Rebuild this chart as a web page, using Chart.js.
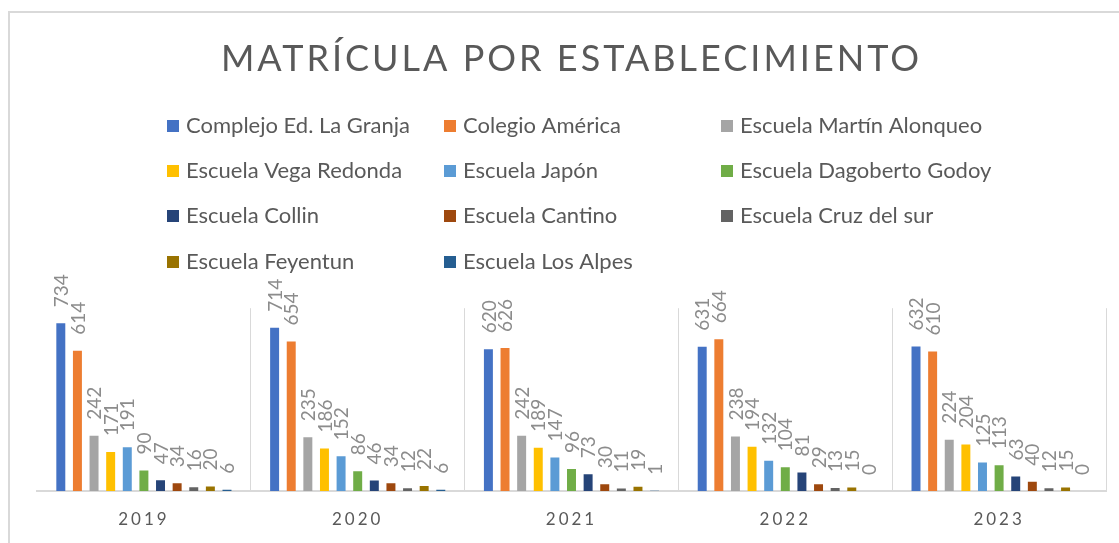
<!DOCTYPE html>
<html>
<head>
<meta charset="utf-8">
<title>Matrícula por establecimiento</title>
<script src="https://cdn.jsdelivr.net/npm/chart.js@4.4.0/dist/chart.umd.min.js"></script>
<style>
  html, body { margin: 0; padding: 0; background: #fff; }
  #wrap { width: 1119px; height: 543px; }
</style>
</head>
<body>
<div id="wrap"><canvas id="chart" width="1119" height="543"></canvas></div>
<script>
// years on the category axis
const years = ['2019', '2020', '2021', '2022', '2023'];

// one array per school, values per year
const laGranja      = [734, 714, 620, 631, 632];
const america       = [614, 654, 626, 664, 610];
const martinAlonqueo = [242, 235, 242, 238, 224];
const vegaRedonda   = [171, 186, 189, 194, 204];
const japon         = [191, 152, 147, 132, 125];
const dagoberto     = [90, 86, 96, 104, 113];
const collin        = [47, 46, 73, 81, 63];
const cantino       = [34, 34, 30, 29, 40];
const cruzDelSur    = [16, 12, 11, 13, 12];
const feyentun      = [20, 22, 19, 15, 15];
const losAlpes      = [6, 6, 1, 0, 0];

const schoolNames = [
    'Complejo Ed. La Granja', 'Colegio América', 'Escuela Martín Alonqueo',
    'Escuela Vega Redonda', 'Escuela Japón', 'Escuela Dagoberto Godoy',
    'Escuela Collin', 'Escuela Cantino', 'Escuela Cruz del sur',
    'Escuela Feyentun', 'Escuela Los Alpes'
];
const schoolValues = [laGranja, america, martinAlonqueo, vegaRedonda, japon,
    dagoberto, collin, cantino, cruzDelSur, feyentun, losAlpes];
const colors = ['#4472C4', '#ED7D31', '#A5A5A5', '#FFC000', '#5B9BD5', '#70AD47',
    '#264478', '#9E480E', '#636363', '#997300', '#255E91'];

const yMax = 800;

const datasets = schoolNames.map((name, i) => ({
    label: name,
    data: schoolValues[i],
    backgroundColor: colors[i],
    borderWidth: 0
}));

// white background, outer frame and spaced-out text for title / ticks
const framePlugin = {
    id: 'frame',
    beforeDraw(chart) {
        const ctx = chart.ctx;
        ctx.save();
        ctx.fillStyle = '#ffffff';
        ctx.fillRect(0, 0, chart.width, chart.height);
        ctx.strokeStyle = '#d9d9d9';
        ctx.lineWidth = 2;
        ctx.strokeRect(9, 12, chart.width + 20, chart.height + 20);
        ctx.restore();
        ctx.letterSpacing = '3px';
    },
    beforeDatasetsDraw(chart) {
        chart.ctx.letterSpacing = '0px';
    }
};

// value labels, rotated, above each bar
const valueLabels = {
    id: 'valueLabels',
    afterDatasetsDraw(chart) {
        const ctx = chart.ctx;
        ctx.save();
        ctx.font = '19px Lato';
        ctx.fillStyle = '#8c8c8c';
        ctx.textAlign = 'left';
        ctx.textBaseline = 'middle';
        chart.data.datasets.forEach((ds, di) => {
            const meta = chart.getDatasetMeta(di);
            meta.data.forEach((bar, i) => {
                ctx.save();
                ctx.translate(bar.x + 1, bar.y - 16);
                ctx.rotate(-Math.PI / 2);
                ctx.fillText(String(ds.data[i]), 0, 0);
                ctx.restore();
            });
        });
        ctx.restore();
    }
};

// legend in three fixed columns
const gridLegend = {
    id: 'gridLegend',
    afterDraw(chart) {
        const ctx = chart.ctx;
        const colX = [167, 444, 721];
        const rowY = [126, 171, 216, 262];
        ctx.save();
        ctx.font = '22px Lato';
        ctx.textBaseline = 'middle';
        ctx.textAlign = 'left';
        chart.data.datasets.forEach((ds, i) => {
            const x = colX[i % 3];
            const y = rowY[Math.floor(i / 3)];
            ctx.fillStyle = ds.backgroundColor;
            ctx.fillRect(x, y - 6, 12, 12);
            ctx.fillStyle = '#595959';
            ctx.fillText(ds.label, x + 19, y);
        });
        ctx.restore();
    }
};

new Chart(document.getElementById('chart'), {
    type: 'bar',
    data: { labels: years, datasets: datasets },
    options: {
        responsive: false,
        animation: false,
        layout: { padding: { left: 37, right: 13, bottom: 0, top: 0 } },
        datasets: {
            bar: { categoryPercentage: 0.855, barPercentage: 0.54 }
        },
        scales: {
            x: {
                afterFit(scale) { scale.height = 52; },
                grid: {
                    offset: true,
                    drawTicks: false,
                    color: c => c.index === 0 ? 'rgba(0,0,0,0)' : '#d9d9d9',
                    lineWidth: 1
                },
                border: { color: '#d9d9d9', width: 2 },
                ticks: {
                    color: '#595959',
                    font: { family: 'Lato', size: 17 },
                    padding: 18
                }
            },
            y: {
                display: false,
                min: 0,
                max: yMax
            }
        },
        plugins: {
            legend: { display: false },
            tooltip: { enabled: false },
            title: {
                display: true,
                text: 'MATRÍCULA POR ESTABLECIMIENTO',
                color: '#595959',
                font: { family: 'Lato', size: 36, weight: '400' },
                padding: { top: 38, bottom: 227 }
            }
        }
    },
    plugins: [framePlugin, valueLabels, gridLegend]
});
</script>
</body>
</html>
